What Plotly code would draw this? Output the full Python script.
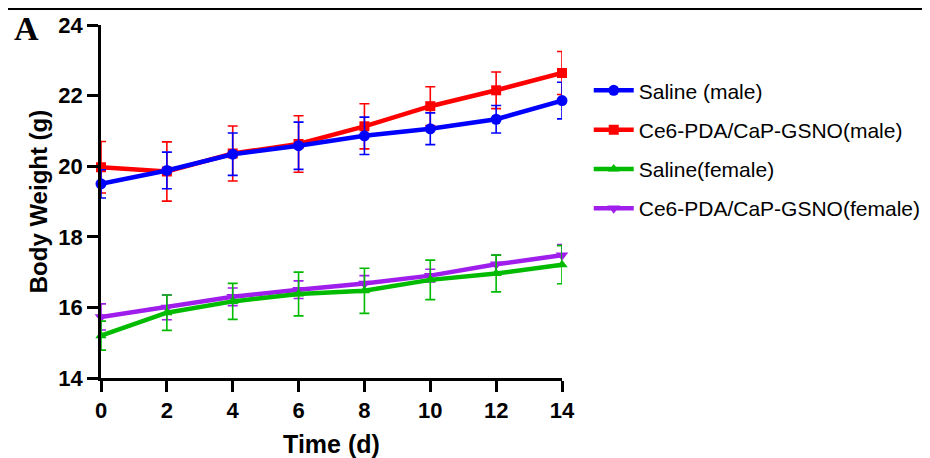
import plotly.graph_objects as go

days = [0, 2, 4, 6, 8, 10, 12, 14]
x_tick_labels = ["0", "2", "4", "6", "8", "10", "12", "14"]

saline_male = [19.50, 19.88, 20.34, 20.58, 20.86, 21.06, 21.33, 21.86]
saline_male_err = [0.40, 0.52, 0.60, 0.67, 0.53, 0.45, 0.39, 0.52]

gsno_male = [19.97, 19.85, 20.36, 20.63, 21.13, 21.70, 22.15, 22.64]
gsno_male_err = [0.73, 0.84, 0.78, 0.80, 0.64, 0.55, 0.52, 0.61]

saline_female = [15.20, 15.85, 16.17, 16.38, 16.47, 16.78, 16.96, 17.21]
saline_female_err = [0.41, 0.50, 0.51, 0.62, 0.64, 0.56, 0.52, 0.54]

gsno_female = [15.73, 16.00, 16.30, 16.50, 16.68, 16.90, 17.22, 17.48]
gsno_female_err = [0.37, 0.35, 0.25, 0.25, 0.22, 0.18, 0.26, 0.30]

y_ticks = [14, 16, 18, 20, 22, 24]
y_tick_labels = ["14", "16", "18", "20", "22", "24"]

series = [
    # name, values, errors, color, symbol, size, rank
    ("Ce6-PDA/CaP-GSNO(male)", gsno_male, gsno_male_err, "#FF0000", "square", 10, 2),
    ("Saline (male)", saline_male, saline_male_err, "#0000FF", "circle", 11, 1),
    ("Ce6-PDA/CaP-GSNO(female)", gsno_female, gsno_female_err, "#A01EEB", "triangle-down", 11, 4),
    ("Saline(female)", saline_female, saline_female_err, "#00BB00", "triangle-up", 10, 3),
]

FONT = "Liberation Sans, Arial, sans-serif"

fig = go.Figure()
for name, vals, errs, color, symbol, size, rank in series:
    fig.add_trace(go.Scatter(
        x=days, y=vals, name=name, mode="lines+markers",
        line=dict(color=color, width=4.5),
        marker=dict(color=color, symbol=symbol, size=size),
        error_y=dict(type="data", array=errs, visible=True, color=color,
                     thickness=1.6, width=5),
        cliponaxis=False, legendrank=rank, legendgroup=name,
    ))

fig.add_shape(type="line", xref="paper", yref="paper",
              x0=-0.3, x1=1.9, y0=1.0453, y1=1.0453,
              line=dict(color="black", width=2))

fig.add_annotation(text="<b>A</b>", xref="paper", yref="paper",
                   x=-0.162, y=0.9915, xanchor="center", yanchor="middle",
                   showarrow=False,
                   font=dict(family="Liberation Serif, Times New Roman, serif",
                             size=34, color="black"))

fig.update_layout(
    width=930, height=458,
    margin=dict(l=93, r=374, t=17, b=88),
    plot_bgcolor="white", paper_bgcolor="white",
    font=dict(family=FONT, color="black"),
    showlegend=True,
    legend=dict(x=1.058, y=0.872, xanchor="left", yanchor="top",
                font=dict(size=21, color="black", family=FONT),
                traceorder="grouped", tracegroupgap=9,
                itemwidth=40, bgcolor="rgba(0,0,0,0)"),
)

fig.update_xaxes(
    range=[0, 14], tickmode="array", tickvals=days,
    ticktext=["<b>%s</b>" % t for t in x_tick_labels],
    showline=True, linecolor="black", linewidth=2.5,
    ticks="outside", ticklen=11, tickwidth=2.5, tickcolor="black",
    showgrid=False, zeroline=False, automargin=False,
    tickfont=dict(size=22, family=FONT),
    title=dict(text="<b>Time (d)</b>", font=dict(size=25, family=FONT), standoff=14),
)
fig.update_yaxes(
    range=[14, 24], tickmode="array", tickvals=y_ticks,
    ticktext=["<b>%s</b>" % t for t in y_tick_labels],
    showline=True, linecolor="black", linewidth=2.5,
    ticks="outside", ticklen=11, tickwidth=2.5, tickcolor="black",
    showgrid=False, zeroline=False, automargin=False,
    tickfont=dict(size=22, family=FONT),
    title=dict(text="<b>Body Weight (g)</b>", font=dict(size=24, family=FONT), standoff=4),
)

fig.write_html("out.html")
